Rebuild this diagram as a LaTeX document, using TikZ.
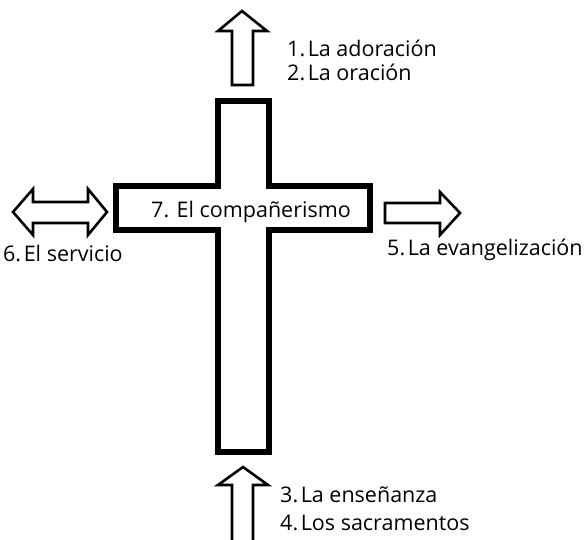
\documentclass[tikz,border=0pt]{standalone}
\usepackage{fontspec}
\setmainfont{Open Sans}
\begin{document}
\begin{tikzpicture}[x=1pt,y=-1pt,
  crossline/.style={line width=6pt,line join=miter},
  arrowline/.style={line width=2.6pt,line join=miter},
  lbl/.style={font=\fontsize{21.5}{23}\selectfont,inner sep=0pt}]
\useasboundingbox (0,0) rectangle (587,539);
% cross
\draw[crossline] (218,101) -- (269,101) -- (269,186) -- (370,186) -- (370,230) -- (269,230) -- (269,452) -- (218,452) -- (218,230) -- (116,230) -- (116,186) -- (218,186) -- cycle;
\node[lbl,anchor=center] (c7) at (251,212) {7. El compañerismo};
% top arrow
\draw[arrowline] (242,11) -- (267,31) -- (253,31) -- (253,85) -- (232,85) -- (232,31) -- (218,31) -- cycle;
\node[lbl,anchor=west] (t1) at (287,48) {1.\hspace{0.12em}La adoración};
\node[lbl,anchor=west] (t2) at (287,72) {2.\hspace{0.12em}La oración};
% bottom arrow
\draw[arrowline] (232,545) -- (232,485) -- (218,485) -- (243,467) -- (268,485) -- (253,485) -- (253,545);
\node[lbl,anchor=west] (t3) at (280,495) {3.\hspace{0.12em}La enseñanza};
\node[lbl,anchor=west] (t4) at (280,523) {4.\hspace{0.12em}Los sacramentos};
% left double arrow
\draw[arrowline] (13,212) -- (33,189) -- (33,202) -- (88,202) -- (88,189) -- (107,212) -- (88,235) -- (88,223) -- (33,223) -- (33,235) -- cycle;
\node[lbl,anchor=west] (t6) at (3,253) {6.\hspace{0.12em}El servicio};
% right arrow
\draw[arrowline] (385,203) -- (440,203) -- (440,192) -- (460,213) -- (440,235) -- (440,223) -- (385,223) -- cycle;
\node[lbl,anchor=west] (t5) at (387,250) {5.\hspace{0.12em}La evangelización};
\end{tikzpicture}
\end{document}
